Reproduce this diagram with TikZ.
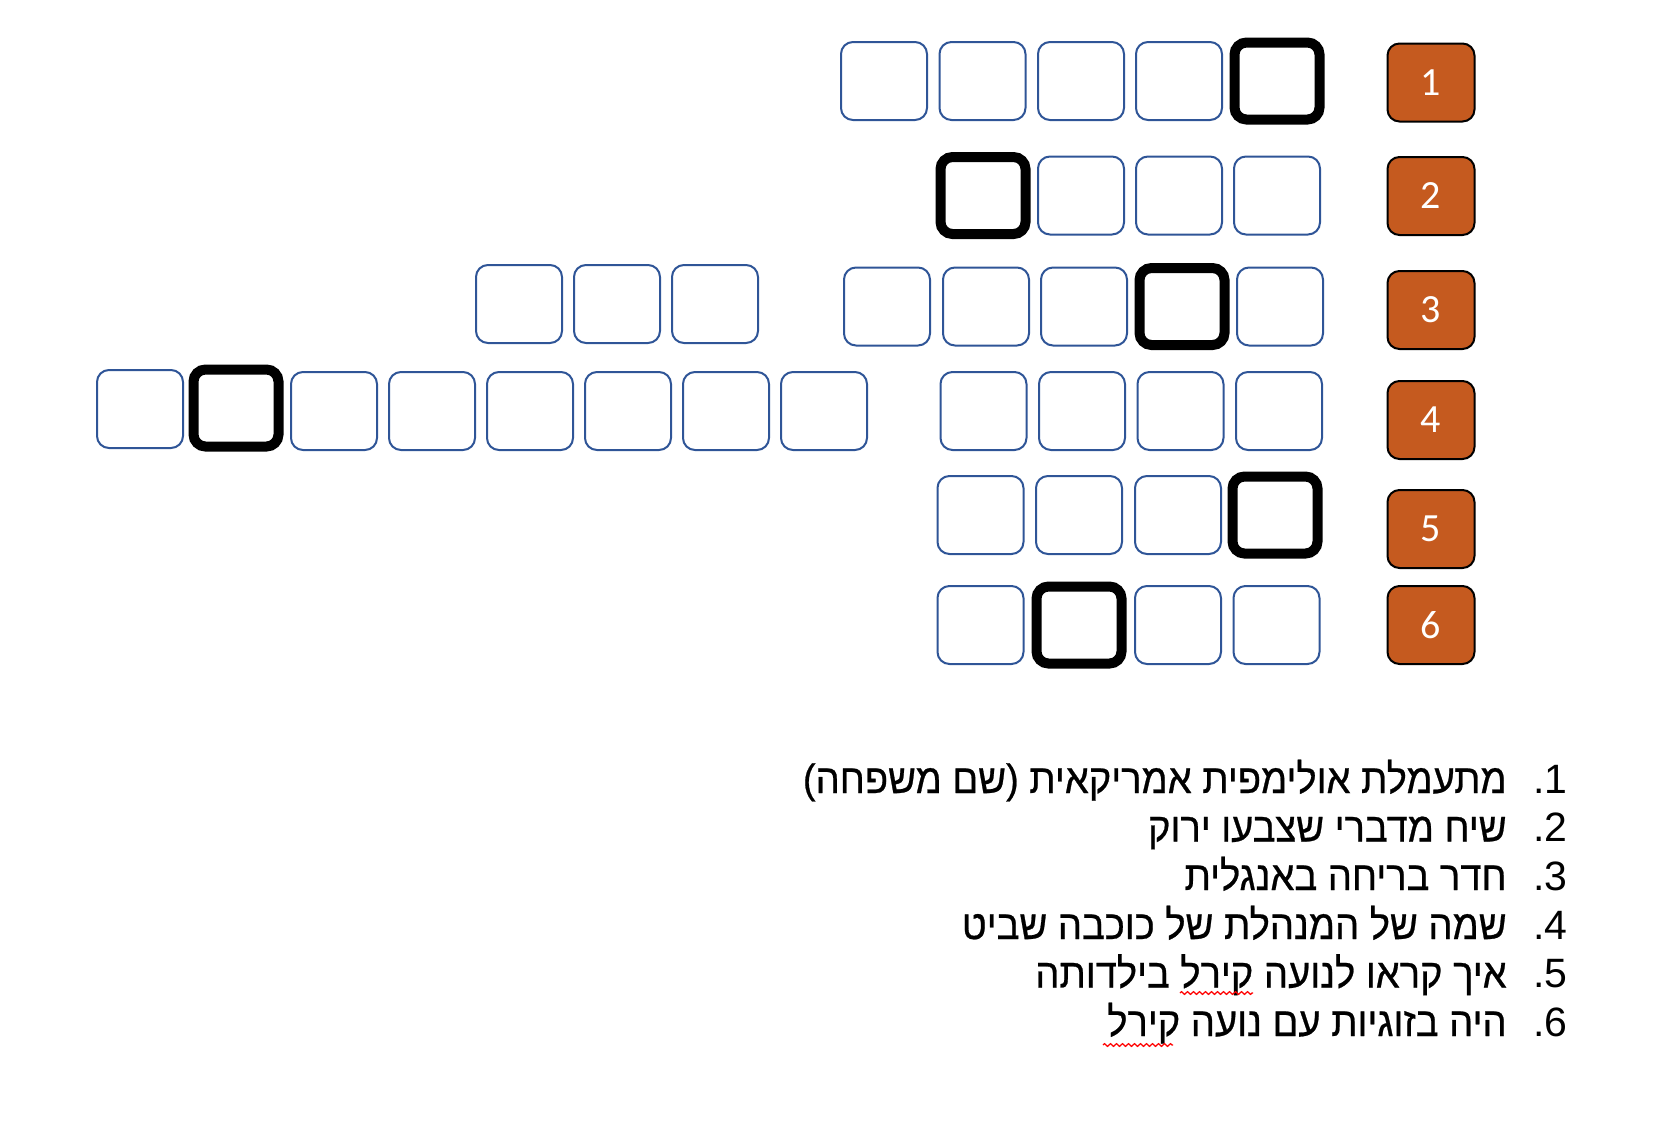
\documentclass[tikz,border=0pt]{standalone}
\usepackage{fontspec}
\setmainfont{Liberation Sans}
\newfontfamily\hebfont[Script=Hebrew, FakeStretch=0.93, FakeBold=0.6]{Liberation Sans}
\newfontfamily\hebnum[Script=Hebrew]{Liberation Sans}
\newfontfamily\numfont{Carlito}
\TeXXeTstate=1
\usetikzlibrary{decorations.pathmorphing}

\begin{document}
\begin{tikzpicture}[x=0.5pt, y=-0.5pt,
  cell/.style={draw=cellblue, line width=1pt, rounded corners=6pt,
    minimum width=43pt, minimum height=39pt, inner sep=0pt},
  keycell/.style={draw=black, line width=5pt, rounded corners=6pt,
    minimum width=42.5pt, minimum height=38.5pt, inner sep=0pt},
  numbox/.style={draw=black, fill=numorange, line width=1pt,
    rounded corners=6pt, minimum width=43.5pt, minimum height=39pt,
    inner sep=0pt, text=white, font=\numfont\fontsize{20}{24}\selectfont},
  clue/.style={anchor=base east, inner sep=0pt,
    font=\hebfont\fontsize{20.5}{24}\selectfont},
  listno/.style={anchor=base east, inner sep=0pt,
    font=\hebnum\fontsize{20.5}{24}\selectfont},
  spell/.style={red, line width=0.6pt, decorate,
    decoration={zigzag, amplitude=0.7pt, segment length=3pt}}]
\definecolor{cellblue}{HTML}{2F5597}
\definecolor{numorange}{HTML}{C55A1F}
\useasboundingbox (0, 0) rectangle (1672, 1142);

% row 1
\node[cell] (c11) at (884, 81) {};
\node[cell] (c12) at (982.5, 81) {};
\node[cell] (c13) at (1081, 81) {};
\node[cell] (c14) at (1179, 81) {};
\node[keycell] (c15) at (1277, 81) {};

% row 2
\node[keycell] (c21) at (983, 195.5) {};
\node[cell] (c22) at (1081, 195.5) {};
\node[cell] (c23) at (1179, 195.5) {};
\node[cell] (c24) at (1277, 195.5) {};

% row 3
\node[cell] (c31) at (519, 304) {};
\node[cell] (c32) at (617, 304) {};
\node[cell] (c33) at (715, 304) {};
\node[cell] (c34) at (887, 306.5) {};
\node[cell] (c35) at (986, 306.5) {};
\node[cell] (c36) at (1084, 306.5) {};
\node[keycell] (c37) at (1182, 306.5) {};
\node[cell] (c38) at (1280, 306.5) {};

% row 4
\node[cell] (c41) at (140, 409) {};
\node[keycell] (c42) at (236, 408) {};
\node[cell] (c43) at (334, 411) {};
\node[cell] (c44) at (432, 411) {};
\node[cell] (c45) at (530, 411) {};
\node[cell] (c46) at (628, 411) {};
\node[cell] (c47) at (726, 411) {};
\node[cell] (c48) at (824, 411) {};
\node[cell] (c49) at (983.5, 411) {};
\node[cell] (c410) at (1082, 411) {};
\node[cell] (c411) at (1180.5, 411) {};
\node[cell] (c412) at (1279, 411) {};

% row 5
\node[cell] (c51) at (980.5, 515) {};
\node[cell] (c52) at (1079, 515) {};
\node[cell] (c53) at (1178, 515) {};
\node[keycell] (c54) at (1275, 515) {};

% row 6
\node[cell] (c61) at (980.5, 625) {};
\node[keycell] (c62) at (1079, 625) {};
\node[cell] (c63) at (1178, 625) {};
\node[cell] (c64) at (1276.5, 625) {};

% numbers
\node[numbox] (n1) at (1431, 82.5) {1};
\node[numbox] (n2) at (1431, 196) {2};
\node[numbox] (n3) at (1431, 310) {3};
\node[numbox] (n4) at (1431, 420) {4};
\node[numbox] (n5) at (1431, 529) {5};
\node[numbox] (n6) at (1431, 625) {6};

% clues
\node[listno] (l1) at (1568, 793) {\beginR 1.\endR};
\node[listno] (l2) at (1568, 841.5) {\beginR 2.\endR};
\node[listno] (l3) at (1568, 890) {\beginR 3.\endR};
\node[listno] (l4) at (1568, 939) {\beginR 4.\endR};
\node[listno] (l5) at (1568, 987.5) {\beginR 5.\endR};
\node[listno] (l6) at (1568, 1036) {\beginR 6.\endR};

\node[clue] (q1) at (1507, 793) {\beginR מתעמלת אולימפית אמריקאית (שם משפחה)\endR};
\node[clue] (q2) at (1507, 841.5) {\beginR שיח מדברי שצבעו ירוק\endR};
\node[clue] (q3) at (1507, 890) {\beginR חדר בריחה באנגלית\endR};
\node[clue] (q4) at (1507, 939) {\beginR שמה של המנהלת של כוכבה שביט\endR};
\node[clue] (q5) at (1507, 987.5) {\beginR איך קראו לנועה קירל בילדותה\endR};
\node[clue] (q6) at (1507, 1036) {\beginR היה בזוגיות עם נועה קירל\endR};

\coordinate (s5a) at (1180, 993);
\coordinate (s5b) at (1253, 993);
\coordinate (s6a) at (1103, 1045);
\coordinate (s6b) at (1173, 1045);
\draw[spell] (s5a) -- (s5b);
\draw[spell] (s6a) -- (s6b);

\end{tikzpicture}
\end{document}
